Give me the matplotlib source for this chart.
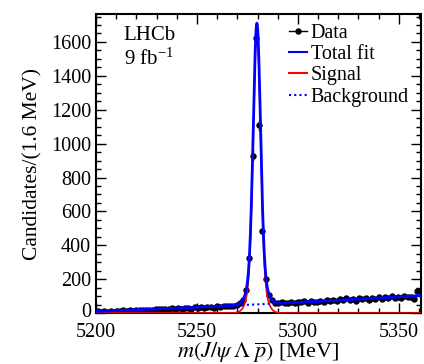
import numpy as np
import matplotlib
matplotlib.use("Agg")
import matplotlib.pyplot as plt
from matplotlib.ticker import MultipleLocator
from matplotlib.lines import Line2D
from matplotlib.transforms import ScaledTranslation

plt.rcParams['font.family'] = ['Liberation Serif', 'DejaVu Serif']
plt.rcParams['mathtext.fontset'] = 'stix'

# data: 1.6 MeV bins from 5200 to 5360
bin_lo = 5200.0
bin_width = 1.6
counts = [
    10, 8, 12, 9, 11, 6, 13, 12, 18, 14,
    16, 13, 17, 15, 20, 18, 15, 19, 22, 24,
    21, 25, 23, 27, 24, 29, 22, 28, 31, 26,
    33, 30, 35, 28, 34, 38, 32, 40, 36, 42,
    39, 44, 41, 50, 58, 78, 136, 326, 929, 1625,
    1108, 486, 199, 106, 77, 62, 60, 64, 58, 62,
    66, 59, 68, 63, 70, 61, 72, 66, 64, 74,
    68, 77, 70, 79, 72, 84, 75, 88, 78, 82,
    74, 86, 80, 90, 77, 88, 82, 92, 85, 94,
    86, 98, 90, 96, 88, 100, 95, 92, 84, 128,
]

# fit parameters
sig_mean = 5279.7
sig_peak = 1660.0
sig_core = 1.75
sig_wide = 3.4
core_frac = 0.85
bkg_c0, bkg_c1, bkg_c2 = 10.0, 0.45, 0.0008

centres = bin_lo + bin_width * (np.arange(len(counts)) + 0.5)
counts = np.array(counts, dtype=float)

xf = np.linspace(5200, 5361, 1500)
d = xf - sig_mean
signal = sig_peak * (core_frac * np.exp(-0.5 * (d / sig_core) ** 2)
                     + (1 - core_frac) * np.exp(-0.5 * (d / sig_wide) ** 2))
bkg = bkg_c0 + bkg_c1 * (xf - 5200) + bkg_c2 * (xf - 5200) ** 2
total = signal + bkg

fig = plt.figure(figsize=(4.24, 3.64), dpi=100)
ax = fig.add_axes([0.2264, 0.14, 0.7666, 0.8215])

ax.errorbar(centres, counts, yerr=np.sqrt(counts), fmt='o', color='black',
            ms=3.6, elinewidth=1, capsize=0, zorder=2)
ax.plot(xf, total, color='blue', lw=2, zorder=4)
ax.plot(xf, signal, color='red', lw=1.2, zorder=3)
ax.plot(xf, bkg, color='blue', lw=1.5, ls=(0, (1, 1.5)), zorder=3)

ax.set_xlim(5200, 5361)
ax.set_ylim(0, 1765)
ax.xaxis.set_major_locator(MultipleLocator(50))
ax.xaxis.set_minor_locator(MultipleLocator(10))
ax.yaxis.set_major_locator(MultipleLocator(200))
ax.yaxis.set_minor_locator(MultipleLocator(50))
ax.tick_params(which='both', direction='in', top=True, right=True, labelsize=14.5, width=1)
ax.tick_params(which='major', length=7)
ax.tick_params(which='minor', length=3.5)
ax.tick_params(axis='x', pad=7)
for s in ax.spines.values():
    s.set_linewidth(1.5)

ax.set_xlabel(r'$m(J/\psi\;\Lambda\;\overline{p})$ [MeV]', fontsize=16, labelpad=-1)
ax.set_ylabel('Candidates/(1.6 MeV)', fontsize=15.5, labelpad=6)

ax.text(0.085, 0.96, 'LHCb', transform=ax.transAxes, fontsize=15, va='top')
ax.text(0.085, 0.885, r'9 fb$^{\mathregular{-1}}$', transform=ax.transAxes, fontsize=15, va='top')

handles = [
    Line2D([], [], color='black', lw=1, marker='o', ms=3.6),
    Line2D([], [], color='blue', lw=1.5),
    Line2D([], [], color='red', lw=1.5),
    Line2D([], [], color='blue', lw=1.5, ls=(0, (1, 1.5))),
]
labels = ['Data', 'Total fit', 'Signal', 'Background']
ax.legend(handles, labels, loc='upper right', bbox_to_anchor=(1.012, 1.02), frameon=False,
          fontsize=14.5, handlelength=0.9, handletextpad=0.2, labelspacing=0.1, borderpad=0.3)

# nudge the "0" label up so it clears "5200"
fig.canvas.draw()
for tick in ax.yaxis.get_major_ticks():
    if tick.get_loc() == 0:
        lab = tick.label1
        lab.set_transform(lab.get_transform() + ScaledTranslation(0, 2.5 / 72, fig.dpi_scale_trans))

fig.savefig('out.png', dpi=100)
